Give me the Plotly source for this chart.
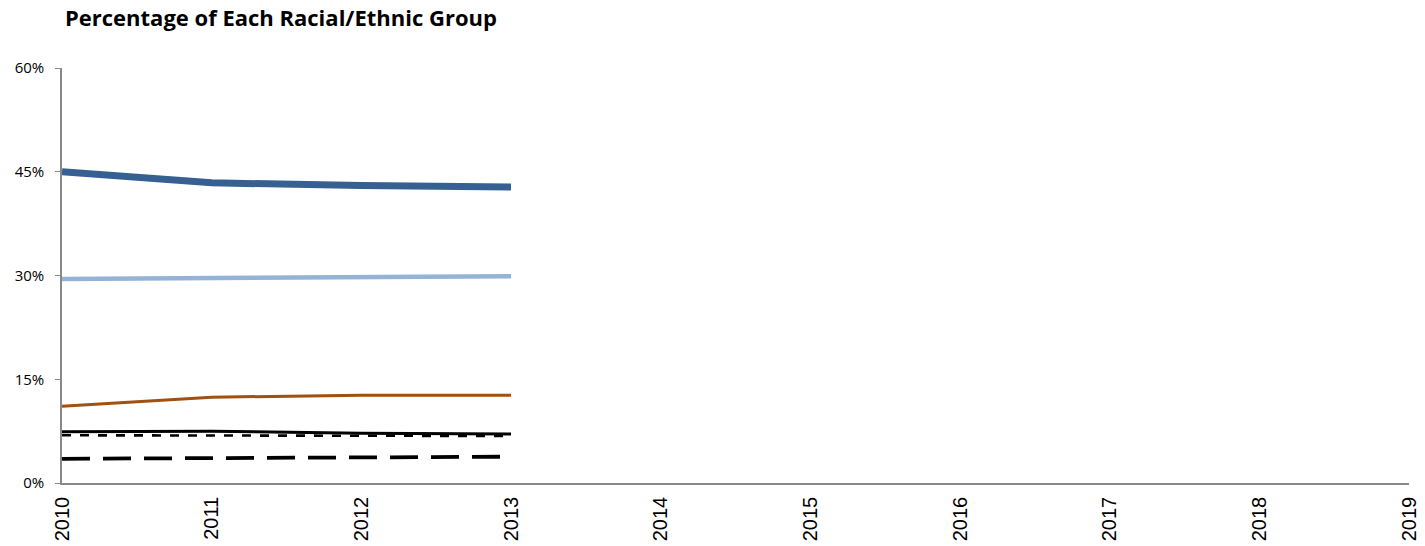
import plotly.graph_objects as go

years = [2010, 2011, 2012, 2013]
all_years = list(range(2010, 2020))
y_ticks = [0, 15, 30, 45, 60]
y_tick_labels = ["0%", "15%", "30%", "45%", "60%"]

series_a = [45.0, 43.4, 43.0, 42.8]   # dark blue
series_b = [29.5, 29.6, 29.8, 29.9]   # light blue
series_c = [11.1, 12.4, 12.7, 12.7]   # orange
series_d = [7.4, 7.5, 7.2, 7.1]       # black solid
series_e = [6.9, 6.9, 6.8, 6.8]       # black short dash
series_f = [3.5, 3.6, 3.7, 3.8]       # black long dash

fig = go.Figure()
def add(y, color, width, dash="solid", name=""):
    fig.add_trace(go.Scatter(x=years, y=y, mode="lines", name=name,
                             line=dict(color=color, width=width, dash=dash),
                             showlegend=False, hoverinfo="skip"))

add(series_e, "#000000", 2.6, "9px,9px", "E")
add(series_d, "#000000", 3, "solid", "D")
add(series_f, "#000000", 3.8, "28px,13px", "F")
add(series_c, "#A0500F", 3, "solid", "C")
add(series_b, "#95B3D7", 4.5, "solid", "B")
add(series_a, "#376092", 7, "solid", "A")

W, H = 1425, 546
fig.update_layout(
    width=W, height=H,
    margin=dict(l=62, r=16, t=68, b=63, autoexpand=False),
    plot_bgcolor="white", paper_bgcolor="white",
    title=dict(text="<b>Percentage of Each Racial/Ethnic Group</b>",
               x=65/W, xanchor="left", y=1-18/H, yanchor="middle",
               font=dict(family="Open Sans", size=22, color="#000000")),
    xaxis=dict(range=[2010, 2019], tickvals=all_years, ticktext=[str(v) for v in all_years],
               tickangle=-90, showgrid=False, zeroline=False, showline=True,
               linecolor="#898989", linewidth=1.5, ticks="", automargin=False,
               ticklabelstandoff=4,
               tickfont=dict(family="Liberation Sans", size=20, color="#000000")),
    yaxis=dict(range=[0, 60], tickvals=y_ticks, ticktext=y_tick_labels,
               showgrid=False, zeroline=False, showline=True, automargin=False,
               linecolor="#898989", linewidth=1.5, ticks="outside", ticklen=5,
               tickcolor="#898989", ticklabelstandoff=8,
               tickfont=dict(family="Open Sans", size=15, color="#000000")),
)
fig.write_html("out.html", config={"displayModeBar": False},
               post_script="document.body.style.margin='0';")
